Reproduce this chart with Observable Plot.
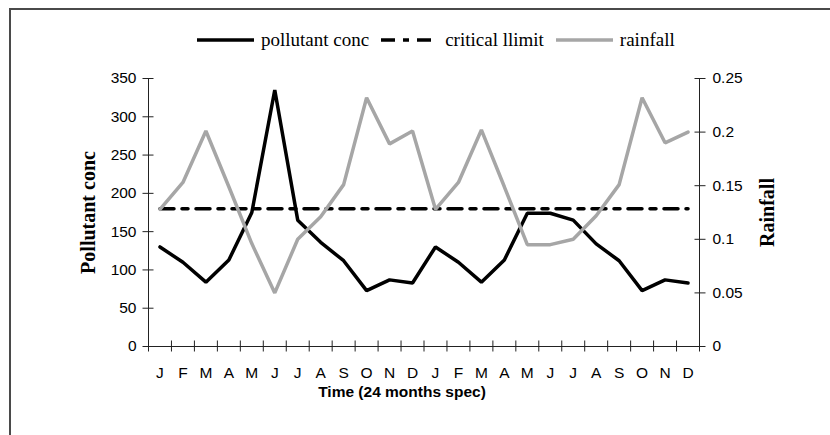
<!DOCTYPE html>
<html>
<head>
<meta charset="utf-8">
<script src="https://cdn.jsdelivr.net/npm/d3@7"></script>
<script src="https://cdn.jsdelivr.net/npm/@observablehq/plot@0.6"></script>
<style>
  html, body { margin: 0; padding: 0; background: #fff; }
  body { width: 830px; height: 435px; overflow: hidden; position: relative; }
  #frame { position: absolute; left: 9px; top: 8px; width: 900px; height: 600px; z-index: 5; pointer-events: none;
           border-left: 2px solid #4a4a4a; border-top: 2px solid #4a4a4a; box-sizing: border-box; }
  #legend { position: absolute; left: 197px; top: 28px; height: 24px; display: flex; align-items: center;
            font-family: "Liberation Serif", "Times New Roman", serif; font-size: 19px; color: #000; }
  #legend .item { display: flex; align-items: center; margin-right: 12px; }
  #legend svg { margin-right: 7px; }
  #chart { position: absolute; left: 0; top: 50px; }
</style>
</head>
<body>
<div id="chart"></div>
<div id="legend"></div>
<div id="frame"></div>
<script>
// ---- data ----
const months = ["J","F","M","A","M","J","J","A","S","O","N","D",
                "J","F","M","A","M","J","J","A","S","O","N","D"];
const pollutant = [130,110,84,113,175,335,165,136,112,73,87,83,
                   130,110,84,113,174,174,165,134,112,73,87,83];
const rainfall = [0.128,0.153,0.201,0.149,0.096,0.050,0.100,0.121,0.151,0.232,0.189,0.201,
                  0.128,0.153,0.202,0.149,0.095,0.095,0.100,0.122,0.151,0.232,0.190,0.200];
const criticalLimit = 180;
const pollutantTicks = [0,50,100,150,200,250,300,350];
const rainfallTicks = [0,0.05,0.1,0.15,0.2,0.25];
const seriesNames = ["pollutant conc","critical llimit","rainfall"];
const xTitle = "Time (24 months spec)";
const yLeftTitle = "Pollutant conc";
const yRightTitle = "Rainfall";

// ---- styles ----
const polColor = "#000", rainColor = "#a6a6a6", critColor = "#000";
const lineW = 3.5;
const critDash = "14,8,6,8";

const rainToPol = pollutantTicks[pollutantTicks.length - 1] / rainfallTicks[rainfallTicks.length - 1];
const data = months.map((m, i) => ({i, m, pol: pollutant[i], rain: rainfall[i]}));
const boundaries = months.map((_, i) => i).concat([months.length]);
const centers = months.map((_, i) => i + 0.5);
const axisColor = "#222";
const serif = "'Liberation Serif', 'Times New Roman', serif";

// ---- legend ----
const legendStyles = [
  {stroke: polColor, dash: null},
  {stroke: critColor, dash: critDash},
  {stroke: rainColor, dash: null}
];
const legend = document.getElementById("legend");
seriesNames.forEach((name, k) => {
  const item = document.createElement("div");
  item.className = "item";
  const s = legendStyles[k];
  item.innerHTML = `<svg width="57" height="10"><line x1="0" y1="5" x2="57" y2="5" stroke="${s.stroke}" stroke-width="${lineW}" ${s.dash ? `stroke-dasharray="${s.dash}"` : ""}/></svg><span>${name}</span>`;
  legend.appendChild(item);
});

// ---- chart ----
const chart = Plot.plot({
  width: 830,
  height: 385,
  marginTop: 28,
  marginBottom: 89,
  marginLeft: 148,
  marginRight: 131,
  x: {type: "linear", domain: [0, months.length]},
  y: {domain: [0, pollutantTicks[pollutantTicks.length - 1]]},
  style: {fontFamily: "'Liberation Sans', Arial, sans-serif", fontSize: "15.5px", color: "#000", background: "transparent"},
  marks: [
    // axis lines
    Plot.ruleX([0], {stroke: axisColor, strokeWidth: 1}),
    Plot.ruleX([months.length], {stroke: axisColor, strokeWidth: 1}),
    Plot.ruleY([0], {stroke: axisColor, strokeWidth: 1}),
    // left axis: crossing ticks + labels
    Plot.axisY({ticks: pollutantTicks, tickSize: 11, dx: 5.5, tickFormat: () => "", label: null, stroke: axisColor}),
    Plot.axisY({ticks: pollutantTicks, tickSize: 0, tickPadding: 12, label: null}),
    // right axis
    Plot.axisY({anchor: "right", ticks: rainfallTicks.map(r => r * rainToPol), tickSize: 11, dx: -5.5, tickFormat: () => "", label: null, stroke: axisColor}),
    Plot.axisY({anchor: "right", ticks: rainfallTicks.map(r => r * rainToPol), tickSize: 0, tickPadding: 13,
                tickFormat: d => d3.format("~g")(+(d / rainToPol).toFixed(6)), label: null}),
    // x axis
    Plot.axisX({ticks: boundaries, tickSize: 11, dy: -5.5, tickFormat: () => "", label: null, stroke: axisColor}),
    Plot.axisX({ticks: centers, tickSize: 0, tickPadding: 20, tickFormat: d => months[Math.floor(d)], label: null}),
    // titles
    Plot.text([xTitle], {frameAnchor: "bottom", dy: 46, dx: -22, lineAnchor: "middle", textAnchor: "middle",
                         fontWeight: "bold", fontSize: 15.5}),
    Plot.text([yLeftTitle], {frameAnchor: "left", dx: -60, rotate: -90, textAnchor: "middle", lineAnchor: "middle",
                             fontWeight: "bold", fontSize: 20, fontFamily: serif}),
    Plot.text([yRightTitle], {frameAnchor: "right", dx: 68, rotate: -90, textAnchor: "middle", lineAnchor: "middle",
                              fontWeight: "bold", fontSize: 20, fontFamily: serif}),
    // series
    Plot.line(data, {x: d => d.i + 0.5, y: "pol", stroke: polColor, strokeWidth: lineW, strokeLinejoin: "miter"}),
    Plot.line(data, {x: d => d.i + 0.5, y: () => criticalLimit, stroke: critColor, strokeWidth: lineW, strokeDasharray: critDash}),
    Plot.line(data, {x: d => d.i + 0.5, y: d => d.rain * rainToPol, stroke: rainColor, strokeWidth: lineW, strokeLinejoin: "miter"})
  ]
});
document.getElementById("chart").appendChild(chart);
</script>
</body>
</html>
